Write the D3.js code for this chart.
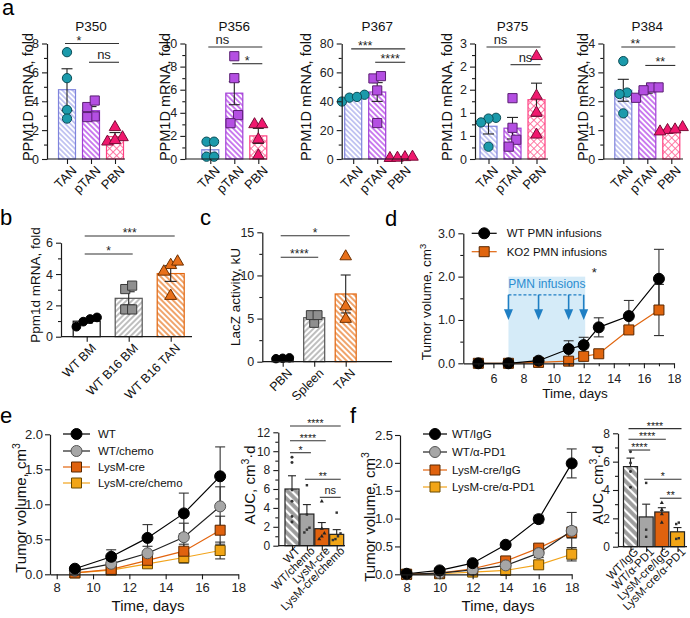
<!DOCTYPE html>
<html><head><meta charset="utf-8">
<script src="https://cdn.jsdelivr.net/npm/d3@7"></script>
<style>body{margin:0;background:#fff}svg{font-family:Arial,"Liberation Sans",Helvetica,sans-serif}</style>
</head><body><svg id="fig" width="690" height="618"></svg>
<script>
// ---------------- DATA ----------------
const aGroups = ["TAN","pTAN","PBN"];
const aPatients = ["P350","P356","P367","P375","P384"];
const p350Pts = [[7.4,5.6,3.4,2.8],[3.6,4.05,2.95,2.9],[2.2,1.5,1.2,1.3]];
const p350Mean = [4.8,3.35,1.55];
const p350Sem = [1.45,0.28,0.28];
const p350Sig = [[0,2,"*",8.0,0.5],[1,2,"ns",6.7]];
const p356Pts = [[1.5,1.5,0.2,0.2],[8.9,7.0,3.8,3.1],[3.0,3.0,0.3,1.7]];
const p356Mean = [0.8,5.7,2.0];
const p356Sem = [0.4,1.0,0.65];
const p356Sig = [[0,2,"ns",9.7,0.5],[1,2,"*",8.25]];
const p367Pts = [[39.8,44.5,42.5,43],[55.8,57.4,47.5,24.9],[1.2,1.5,0.6,0.8]];
const p367Mean = [42.4,46.4,1.0];
const p367Sem = [1.0,6.5,0.2];
const p367Sig = [[0,2,"***",76.3,0.5],[1,2,"****",67]];
const p375Pts = [[1.07,1.05,0.95,0.32],[1.58,0.81,0.5,0.32],[2.67,1.64,1.2,0.63]];
const p375Mean = [0.85,0.8,1.54];
const p375Sem = [0.2,0.28,0.43];
const p375Sig = [[0,2,"ns",2.91,0.5],[1,2,"ns",2.45]];
const p384Pts = [[3.39,2.3,2.25,1.58],[2.48,2.48,2.12,2.38],[1.1,1.0,0.95,1.02]];
const p384Mean = [2.38,2.37,1.02];
const p384Sem = [0.38,0.09,0.04];
const p384Sig = [[0,2,"**",3.88,0.5],[1,2,"**",3.24]];

const bGroups = ["WT BM","WT B16 BM","WT B16 TAN"];
const bPts = [[1.23,1.13,0.96,0.64],[3.04,3.26,1.74,1.74],[4.57,4.79,4.15,2.6]];
const bMean = [0.99,2.45,4.03];
const bSem = [0.13,0.42,0.5];
const bSig = [[0,1,"*",5.28],[0,2,"***",6.43]];

const cGroups = ["PBN","Spleen","TAN"];
const cPts = [[0.4,0.45,0.35],[4.5,5.4,5.4],[12.2,6.4,4.95]];
const cMean = [0.4,5.1,7.85];
const cSem = [0.03,0.27,2.2];
const cSig = [[0,1,"****",12.1],[0,2,"*",14.6]];

const dDays = [5,7,9,11,12,13,15,17];
const dNames = ["WT PMN infusions","KO2 PMN infusions"];
const dWT = [0,0,0.06,0.33,0.42,0.83,1.09,1.95];
const dWTErr = [0,0,0.02,0.19,0.18,0.22,0.36,0.68];
const dKO = [0,0,0.02,0.05,0.16,0.22,0.77,1.23];
const dKOErr = [0,0,0.01,0.02,0.05,0.04,0.08,0.59];
const infusionDays = [7,9,11,12];

const eDays = [9,11,13,15,17];
const eNames = ["WT","WT/chemo","LysM-cre","LysM-cre/chemo"];
const eWT = [0.08,0.25,0.52,0.87,1.40];
const eWTErr = [0.02,0.1,0.19,0.29,0.42];
const eWTc = [0.05,0.15,0.30,0.53,0.97];
const eWTcErr = [0.02,0.05,0.1,0.2,0.28];
const eLys = [0.02,0.07,0.20,0.33,0.63];
const eLysErr = [0.01,0.02,0.07,0.1,0.2];
const eLysc = [0.02,0.06,0.15,0.24,0.34];
const eLyscErr = [0.01,0.02,0.05,0.08,0.12];
const eAucMean = [6.0,3.35,1.8,1.2];
const eAucSem = [1.4,1.0,0.65,0.5];
const eAucPts = [[9.35,8.8,5.9,4.7,3.1,2.5],[6.4,3.3,1.9,1.7,1.4],[4.7,1.8,1.3,1.0,0.7],[3.5,1.3,1.0,0.7,0.6]];
const eSig = [[0,3,"****",12.67],[0,2,"****",11.1],[0,1,"*",9.84],[1,3,"**",7.03],[2,3,"ns",5.12]];

const fDays = [8,10,12,14,16,18];
const fNames = ["WT/IgG","WT/\u03b1-PD1","LysM-cre/IgG","LysM-cre/\u03b1-PD1"];
const fIgG = [0.01,0.07,0.20,0.53,0.99,1.99];
const fIgGErr = [0.005,0.01,0.02,0.03,0.07,0.26];
const fPD1 = [0.0,0.02,0.08,0.16,0.38,0.78];
const fPD1Err = [0,0.01,0.02,0.03,0.08,0.33];
const fLysIgG = [0.0,0.02,0.1,0.24,0.47,0.75];
const fLysIgGErr = [0,0.01,0.02,0.03,0.05,0.1];
const fLysPD1 = [0.0,0.01,0.04,0.07,0.17,0.36];
const fLysPD1Err = [0,0.005,0.01,0.02,0.03,0.12];
const fAucMean = [5.65,2.1,2.45,1.05];
const fAucSem = [0.6,0.9,0.3,0.3];
const fAucPts = [[6.7,5.9,5.3,4.2],[4.5,1.2,0.7],[3.1,2.6,2.3,1.7],[1.7,1.6,0.6,0.55]];
const fSig = [[0,3,"****",8.33],[0,2,"****",7.58],[0,1,"****",6.82],[1,3,"*",4.76],[2,3,"**",3.42]];

// ---------------- DRAWING ----------------
const svg = d3.select("#fig");
const defs = svg.append("defs");
const AX = "#1a1a1a";

function stripes(id, bg, color, w, sp, angle){
  const p = defs.append("pattern").attr("id",id).attr("patternUnits","userSpaceOnUse")
    .attr("width",sp).attr("height",sp).attr("patternTransform",`rotate(${angle})`);
  p.append("rect").attr("width",sp).attr("height",sp).attr("fill",bg);
  p.append("line").attr("x1",sp/2).attr("x2",sp/2).attr("y1",-1).attr("y2",sp+1).attr("stroke",color).attr("stroke-width",w);
}
function cross(id, bg, color, w, sp){
  const p = defs.append("pattern").attr("id",id).attr("patternUnits","userSpaceOnUse")
    .attr("width",sp).attr("height",sp).attr("patternTransform","rotate(45)");
  p.append("rect").attr("width",sp).attr("height",sp).attr("fill",bg);
  p.append("line").attr("x1",sp/2).attr("x2",sp/2).attr("y1",-1).attr("y2",sp+1).attr("stroke",color).attr("stroke-width",w);
  p.append("line").attr("y1",sp/2).attr("y2",sp/2).attr("x1",-1).attr("x2",sp+1).attr("stroke",color).attr("stroke-width",w);
}
stripes("pTAN","#fff","#8f93e6",1,3.6,-45);
stripes("ppTAN","#fff","#b64ae8",1.4,3.8,-45);
cross("pPBN","#fff","#ff6a9a",0.9,5);
stripes("pGray","#fff","#8a8a8a",1.1,4,45);
stripes("pOrange","#fff","#e8731c",1.3,4,-45);
stripes("pWT","#9c9c9c","#ffffff",2.2,6,-45);

function sym(type, size){ return d3.symbol().type(type).size(size)(); }

function swarm(vals, y, r){
  const idx = vals.map((v,i)=>i).sort((a,b)=>vals[a]-vals[b]);
  const off = new Array(vals.length).fill(0);
  let cl = [idx[0]];
  const flush = ()=>{ const n = cl.length; cl.forEach((k,j)=>off[k]=(j-(n-1)/2)*2*r*0.8); };
  for(let m=1;m<idx.length;m++){
    if(Math.abs(y(vals[idx[m]])-y(vals[idx[m-1]])) < 2*r*0.9) cl.push(idx[m]);
    else { flush(); cl=[idx[m]]; }
  }
  flush();
  return off;
}

function styleAxis(sel, fs){
  sel.selectAll("path.domain").attr("stroke",AX).attr("stroke-width",1.2);
  sel.selectAll(".tick line").attr("stroke",AX).attr("stroke-width",1.1);
  sel.selectAll(".tick text").attr("font-size",fs).attr("fill","#222").attr("font-family","Arial, 'Liberation Sans', sans-serif");
}

function yAxis(g, y, x0, ticks, minor, fmt, fs, pad){
  const a = g.append("g").attr("transform",`translate(${x0},0)`)
    .call(d3.axisLeft(y).tickValues(ticks).tickFormat(fmt).tickSize(5).tickSizeOuter(0).tickPadding(pad===undefined?3:pad));
  styleAxis(a, fs);
  if(minor && minor.length){
    const m = g.append("g").attr("transform",`translate(${x0},0)`)
      .call(d3.axisLeft(y).tickValues(minor).tickFormat("").tickSize(3).tickSizeOuter(0));
    m.select("path.domain").remove();
    styleAxis(m, fs);
  }
}

function yTitle(g, x, y, parts, fs){
  const t = g.append("text").attr("transform",`translate(${x},${y}) rotate(-90)`)
    .attr("text-anchor","middle").attr("dy","0.35em").attr("font-size",fs).attr("fill","#111");
  parts.forEach(p=>{
    if(typeof p === "string") t.append("tspan").text(p);
    else t.append("tspan").attr("baseline-shift","super").attr("font-size",fs*0.7).text(p.sup);
  });
}

function sigLines(g, x, y, cats, sig, fs){
  sig.forEach(s=>{
    const xa = x(cats[s[0]])-2, xb = x(cats[s[1]])+4, yy = y(s[3]);
    g.append("line").attr("x1",xa).attr("x2",xb).attr("y1",yy).attr("y2",yy).attr("stroke","#333").attr("stroke-width",1.1);
    let tx = (xa+xb)/2;
    if(s.length>4){ const i0 = Math.floor(s[4]); tx = x(cats[i0]) + (x(cats[i0+1])-x(cats[i0]))*(s[4]-i0); }
    const isNs = s[2]==="ns";
    g.append("text").attr("x",tx).attr("y", isNs ? yy-3 : yy+1)
      .attr("text-anchor","middle").attr("font-size", isNs? fs+0.5 : fs).attr("fill","#222").text(s[2]);
  });
}

function barPanel(c){
  const g = svg.append("g");
  const y = d3.scaleLinear().domain([0,c.max]).range([c.yBot,c.yTop]);
  const x = d3.scalePoint().domain(c.cats).range([c.c0,c.c1]);
  g.selectAll("rect.bar").data(c.means).join("rect").attr("class","bar")
    .attr("x",(d,i)=>x(c.cats[i])-c.bw/2).attr("width",c.bw)
    .attr("y",d=>y(d)).attr("height",d=>c.yBot-y(d))
    .attr("fill",(d,i)=>c.fills[i]).attr("stroke",(d,i)=>c.strokes[i]).attr("stroke-width",1.2);
  c.means.forEach((m,i)=>{
    const cx = x(c.cats[i]); const s = c.sems[i];
    const lo = c.upOnly ? m : m - s;
    g.append("line").attr("x1",cx).attr("x2",cx).attr("y1",y(lo)).attr("y2",y(m+s)).attr("stroke","#222").attr("stroke-width",1.1);
    g.append("line").attr("x1",cx-c.cap).attr("x2",cx+c.cap).attr("y1",y(m+s)).attr("y2",y(m+s)).attr("stroke","#222").attr("stroke-width",1.1);
    if(!c.upOnly) g.append("line").attr("x1",cx-c.cap).attr("x2",cx+c.cap).attr("y1",y(m-s)).attr("y2",y(m-s)).attr("stroke","#222").attr("stroke-width",1.1);
  });
  c.pts.forEach((arr,i)=>{
    const off = swarm(arr, y, c.pr);
    arr.forEach((v,k)=>{
      g.append("path").attr("d", sym(c.shapes[i], c.psize[i]))
        .attr("transform",`translate(${x(c.cats[i])+off[k]},${y(v)})`)
        .attr("fill",c.pfill[i]).attr("stroke",c.pstroke[i]).attr("stroke-width",c.psw===undefined?1:c.psw);
    });
  });
  yAxis(g, y, c.x0, c.ticks, c.minor, c.fmt, c.tfs);
  g.append("line").attr("x1",c.x0).attr("x2",c.xEnd).attr("y1",c.yBot).attr("y2",c.yBot).attr("stroke",AX).attr("stroke-width",1.2);
  const xa = g.append("g").attr("transform",`translate(0,${c.yBot})`).call(d3.axisBottom(x).tickSize(5).tickFormat(""));
  xa.select("path.domain").remove(); styleAxis(xa, c.tfs);
  c.cats.forEach(cat=>{
    g.append("text").attr("transform",`translate(${x(cat)+c.lx},${c.yBot+c.ly}) rotate(-45)`)
      .attr("text-anchor","end").attr("dy","0.7em").attr("font-size",c.xfs).attr("fill","#111").text(cat);
  });
  sigLines(g, x, y, c.cats, c.sig, c.sfs);
  if(c.title) g.append("text").attr("x",x(c.cats[1])).attr("y",c.titleY).attr("text-anchor","middle").attr("font-size",13.5).attr("fill","#111").text(c.title);
  yTitle(g, c.ylx, c.yly, c.ylab, c.yfs);
  return {x,y,g};
}

// ---------- Panel a ----------
const aCols = {fills:["url(#pTAN)","url(#ppTAN)","url(#pPBN)"], strokes:["#7f84dc","#a23fd6","#ff3f82"],
  shapes:[d3.symbolCircle,d3.symbolSquare,d3.symbolTriangle], psize:[68,84,58],
  pfill:["#1b9aab","#b44fe2","#f0186e"], pstroke:["#0b4d56","#5a1f72","#7a0c38"]};
const aCfg = [
  {pts:p350Pts, means:p350Mean, sems:p350Sem, sig:p350Sig, x0:47, off:20, xEnd:125, max:8, ticks:[0,2,4,6,8], minor:[1,3,5,7], fmt:d3.format("d"), ylx:28},
  {pts:p356Pts, means:p356Mean, sems:p356Sem, sig:p356Sig, x0:185.3, off:25, xEnd:267, max:10, ticks:[0,2,4,6,8,10], minor:[1,3,5,7,9], fmt:d3.format("d"), ylx:165},
  {pts:p367Pts, means:p367Mean, sems:p367Sem, sig:p367Sig, x0:341.7, off:11.5, xEnd:409, max:80, ticks:[0,20,40,60,80], minor:[10,30,50,70], fmt:d3.format("d"), ylx:305.5},
  {pts:p375Pts, means:p375Mean, sems:p375Sem, sig:p375Sig, x0:475, off:13.5, xEnd:548, max:3, ticks:[0,0.6,1.2,1.8,2.4,3], minor:[0.3,0.9,1.5,2.1,2.7], fmt:d3.format(".0f"), ylx:447},
  {pts:p384Pts, means:p384Mean, sems:p384Sem, sig:p384Sig, x0:603.3, off:20, xEnd:683, max:4, ticks:[0,1,2,3,4], minor:[0.5,1.5,2.5,3.5], fmt:d3.format("d"), ylx:583}
];
aCfg.forEach((p,i)=>{
  barPanel(Object.assign({}, aCols, p, {cats:aGroups, yTop:43.5, yBot:159, c0:p.x0+p.off, c1:p.x0+p.off+48, bw:17,
    cap:5.5, pr:4.7, upOnly:false, tfs:12.5, xfs:13, lx:4, ly:6, sfs:12.5, title:aPatients[i], titleY:30.5,
    yly:97, ylab:["PPM1D mRNA, fold"], yfs:14.5}));
});

// ---------- Panel b ----------
barPanel({cats:bGroups, pts:bPts, means:bMean, sems:bSem, sig:bSig, x0:61, xEnd:192, yTop:242.7, yBot:336.7, max:6,
  ticks:[0,2,4,6], minor:[1,3,5], fmt:d3.format("d"), c0:86.7, c1:170.7, bw:27, cap:6, pr:4.3,
  fills:["#fff","url(#pGray)","url(#pOrange)"], strokes:["#111","#555","#e2660e"],
  shapes:[d3.symbolCircle,d3.symbolSquare,d3.symbolTriangle], psize:[60,84,62],
  pfill:["#000","#8f8f8f","#e8701a"], pstroke:["#000","#3a3a3a","#6e3000"],
  tfs:12.5, xfs:12.5, lx:4, ly:6, sfs:12, ylx:35, yly:285, ylab:["Ppm1d mRNA, fold"], yfs:13.5});

// ---------- Panel c ----------
barPanel({cats:cGroups, pts:cPts, means:cMean, sems:cSem, sig:cSig, x0:262.3, xEnd:392, yTop:232.3, yBot:361.7, max:15,
  ticks:[0,5,10,15], minor:[2.5,7.5,12.5], fmt:d3.format("d"), c0:282.7, c1:345.7, bw:21, cap:5, pr:4.2,
  fills:["#fff","url(#pGray)","url(#pOrange)"], strokes:["#111","#555","#e2660e"],
  shapes:[d3.symbolCircle,d3.symbolSquare,d3.symbolTriangle], psize:[56,80,58],
  pfill:["#000","#8f8f8f","#e8701a"], pstroke:["#000","#3a3a3a","#6e3000"],
  tfs:12.5, xfs:12.5, lx:4, ly:6, sfs:12, ylx:235, yly:297, ylab:["LacZ activity, kU"], yfs:13.5});

// ---------- line chart ----------
function lineChart(c){
  const g = svg.append("g");
  const x = d3.scaleLinear().domain(c.xDom).range([c.x0,c.x1]);
  const y = d3.scaleLinear().domain([0,c.yMax]).range([c.yBot,c.yTop]);
  if(c.under) c.under(g,x,y);
  const ln = d3.line().x(d=>x(d[0])).y(d=>y(d[1]));
  const order = c.order || c.series.map((s,i)=>i);
  order.forEach(i=>{
    const s = c.series[i];
    const pts = c.days.map((d,k)=>[d,s.v[k]]);
    g.append("path").attr("d",ln(pts)).attr("fill","none").attr("stroke",s.line).attr("stroke-width",1.2);
  });
  order.forEach(i=>{
    const s = c.series[i];
    c.days.forEach((d,k)=>{
      const e = s.e[k]; if(!e) return;
      const cx = x(d);
      g.append("line").attr("x1",cx).attr("x2",cx).attr("y1",y(s.v[k]-e)).attr("y2",y(s.v[k]+e)).attr("stroke","#333").attr("stroke-width",1.1);
      [s.v[k]-e, s.v[k]+e].forEach(v=>g.append("line").attr("x1",cx-5).attr("x2",cx+5).attr("y1",y(v)).attr("y2",y(v)).attr("stroke","#333").attr("stroke-width",1.1));
    });
  });
  order.forEach(i=>{
    const s = c.series[i];
    c.days.forEach((d,k)=>{
      g.append("path").attr("d",sym(s.shape,s.size)).attr("transform",`translate(${x(d)},${y(s.v[k])})`)
        .attr("fill",s.fill).attr("stroke",s.stroke).attr("stroke-width",1);
    });
  });
  yAxis(g, y, c.x0, c.yTicks, c.yMinor, d3.format(".1f"), c.tfs, c.yPad);
  const xa = g.append("g").attr("transform",`translate(0,${c.yBot})`)
    .call(d3.axisBottom(x).tickValues(c.xTicks).tickFormat(d3.format("d")).tickSize(5).tickSizeOuter(0).tickPadding(c.xPad||3));
  styleAxis(xa, c.tfs);
  if(c.xMinor){
    const m = g.append("g").attr("transform",`translate(0,${c.yBot})`)
      .call(d3.axisBottom(x).tickValues(c.xMinor).tickFormat("").tickSize(3).tickSizeOuter(0));
    m.select("path.domain").remove(); styleAxis(m, c.tfs);
  }
  g.append("text").attr("x",c.xtx).attr("y",c.xty).attr("text-anchor","middle").attr("font-size",c.afs).attr("fill","#111").text("Time, days");
  yTitle(g, c.ylx, c.yly, ["Tumor volume, cm",{sup:"3"}], c.afs);
  c.series.forEach((s,i)=>{
    const ly = c.legY[i];
    g.append("line").attr("x1",c.legX0).attr("x2",c.legX1).attr("y1",ly).attr("y2",ly).attr("stroke",s.line).attr("stroke-width",1.2);
    g.append("path").attr("d",sym(s.shape,s.size)).attr("transform",`translate(${(c.legX0+c.legX1)/2},${ly})`)
      .attr("fill",s.fill).attr("stroke",s.stroke).attr("stroke-width",1);
    g.append("text").attr("x",c.legTx).attr("y",ly).attr("dy","0.35em").attr("font-size",c.lfs).attr("fill","#111").text(s.name);
  });
  return {g,x,y};
}

// ---------- Panel d ----------
lineChart({days:dDays, xDom:[4,18], x0:463.3, x1:674, yMax:3, yTop:233.3, yBot:363.3,
  yTicks:[0,1,2,3], yMinor:[0.5,1.5,2.5], xTicks:[6,8,10,12,14,16,18], xMinor:[5,7,9,11,13,15,17], xPad:6, tfs:12.5, afs:13.5, lfs:11.5,
  xtx:575, xty:398, ylx:426, yly:302,
  legX0:471.7, legX1:496.7, legTx:506.7, legY:[233.3,251.7],
  series:[
    {name:dNames[0], v:dWT, e:dWTErr, line:"#000", fill:"#000", stroke:"#000", shape:d3.symbolCircle, size:95},
    {name:dNames[1], v:dKO, e:dKOErr, line:"#e0650e", fill:"#e0650e", stroke:"#5a2800", shape:d3.symbolSquare, size:100}
  ], order:[1,0],
  under:(g,x,y)=>{
    g.append("rect").attr("x",x(7)).attr("width",x(12.1)-x(7)).attr("y",y(2.0)).attr("height",y(0)-y(2.0)).attr("fill","#d5ebf8");
    g.append("text").attr("x",(x(7)+x(12.1))/2).attr("y",y(1.74)).attr("text-anchor","middle").attr("font-size",12).attr("fill","#2a8bd0").text("PMN infusions");
    g.append("line").attr("x1",x(7)).attr("x2",x(12)).attr("y1",y(1.58)).attr("y2",y(1.58)).attr("stroke","#1f7fc4").attr("stroke-width",1.3).attr("stroke-dasharray","3,2");
    infusionDays.forEach(dd=>{
      g.append("line").attr("x1",x(dd)).attr("x2",x(dd)).attr("y1",y(1.58)).attr("y2",y(1.2)).attr("stroke","#1f7fc4").attr("stroke-width",1.6);
      g.append("path").attr("d",`M${x(dd)-4.5},${y(1.25)} L${x(dd)+4.5},${y(1.25)} L${x(dd)},${y(1.0)} Z`).attr("fill","#1f7fc4");
    });
    g.append("text").attr("x",x(12.7)).attr("y",y(2.0)).attr("text-anchor","middle").attr("font-size",13).attr("fill","#222").text("*");
  }});

// ---------- Panel e ----------
lineChart({days:eDays, xDom:[7.63,18], x0:50, x1:238.3, yMax:2, yTop:434.3, yBot:574.3,
  yTicks:[0,0.5,1,1.5,2], yMinor:[], xTicks:[8,10,12,14,16,18], yPad:2, tfs:13, afs:15, lfs:11.5,
  xtx:148, xty:611, ylx:21, yly:508,
  legX0:63, legX1:90, legTx:98, legY:[434,451,467,483],
  series:[
    {name:eNames[0], v:eWT, e:eWTErr, line:"#000", fill:"#000", stroke:"#000", shape:d3.symbolCircle, size:95},
    {name:eNames[1], v:eWTc, e:eWTcErr, line:"#222", fill:"#a6a6a6", stroke:"#555", shape:d3.symbolCircle, size:95},
    {name:eNames[2], v:eLys, e:eLysErr, line:"#e3640e", fill:"#e0620e", stroke:"#5a2800", shape:d3.symbolSquare, size:100},
    {name:eNames[3], v:eLysc, e:eLyscErr, line:"#f2a41c", fill:"#f2a516", stroke:"#6b4a00", shape:d3.symbolSquare, size:100}
  ], order:[3,2,1,0]});

// ---------- Panel f ----------
lineChart({days:fDays, xDom:[7.6,18], x0:400, x1:571.7, yMax:2.5, yTop:435, yBot:574.3,
  yTicks:[0,0.5,1,1.5,2,2.5], yMinor:[], xTicks:[8,10,12,14,16,18], yPad:2, tfs:13, afs:15, lfs:11.5,
  xtx:498, xty:611, ylx:370, yly:517,
  legX0:423, legX1:447, legTx:452, legY:[434,452,470,487],
  series:[
    {name:fNames[0], v:fIgG, e:fIgGErr, line:"#000", fill:"#000", stroke:"#000", shape:d3.symbolCircle, size:95},
    {name:fNames[1], v:fPD1, e:fPD1Err, line:"#222", fill:"#a6a6a6", stroke:"#555", shape:d3.symbolCircle, size:95},
    {name:fNames[2], v:fLysIgG, e:fLysIgGErr, line:"#e3640e", fill:"#e0620e", stroke:"#5a2800", shape:d3.symbolSquare, size:100},
    {name:fNames[3], v:fLysPD1, e:fLysPD1Err, line:"#f2a41c", fill:"#f2a516", stroke:"#6b4a00", shape:d3.symbolSquare, size:100}
  ], order:[3,2,1,0]});

// ---------- AUC panels ----------
function aucPanel(c){
  barPanel({cats:c.cats, pts:c.pts, means:c.means, sems:c.sems, sig:c.sig, x0:c.x0, xEnd:c.xEnd, yTop:c.yTop, yBot:c.yBot, max:c.max,
    ticks:c.ticks, minor:c.minor, fmt:d3.format("d"), c0:c.c0, c1:c.c1, bw:14, cap:4, pr:1.6, upOnly:true,
    fills:["url(#pWT)","#a5a5a5","#e0620e","#f2a516"], strokes:["#222","#222","#222","#222"],
    shapes:[d3.symbolCircle,d3.symbolSquare,d3.symbolTriangle,d3.symbolSquare], psize:[7,6,7,6],
    pfill:["#333","#333","#222","#333"], pstroke:["none","none","none","none"], psw:0,
    tfs:12, xfs:11.5, lx:3, ly:0, sfs:10.5, ylx:c.ylx, yly:485, ylab:["AUC, cm",{sup:"3"},"\u00b7d"], yfs:15});
}
aucPanel({cats:eNames, pts:eAucPts, means:eAucMean, sems:eAucSem, sig:eSig, x0:278.3, xEnd:345, yTop:432.3, yBot:545.7, max:12,
  ticks:[0,2,4,6,8,10,12], minor:[1,3,5,7,9,11], c0:292, c1:336.7, ylx:250});
aucPanel({cats:fNames, pts:fAucPts, means:fAucMean, sems:fAucSem, sig:fSig, x0:618, xEnd:687, yTop:433.3, yBot:546.7, max:8,
  ticks:[0,2,4,6,8], minor:[1,3,5,7], c0:630.5, c1:677.5, ylx:598});

// ---------- panel letters ----------
[["a",2,15],["b",0,225],["c",200,225],["d",385,226],["e",0,423],["f",350,423]].forEach(l=>{
  svg.append("text").attr("x",l[1]).attr("y",l[2]).attr("font-size",22).attr("fill","#000").text(l[0]);
});
</script></body></html>
